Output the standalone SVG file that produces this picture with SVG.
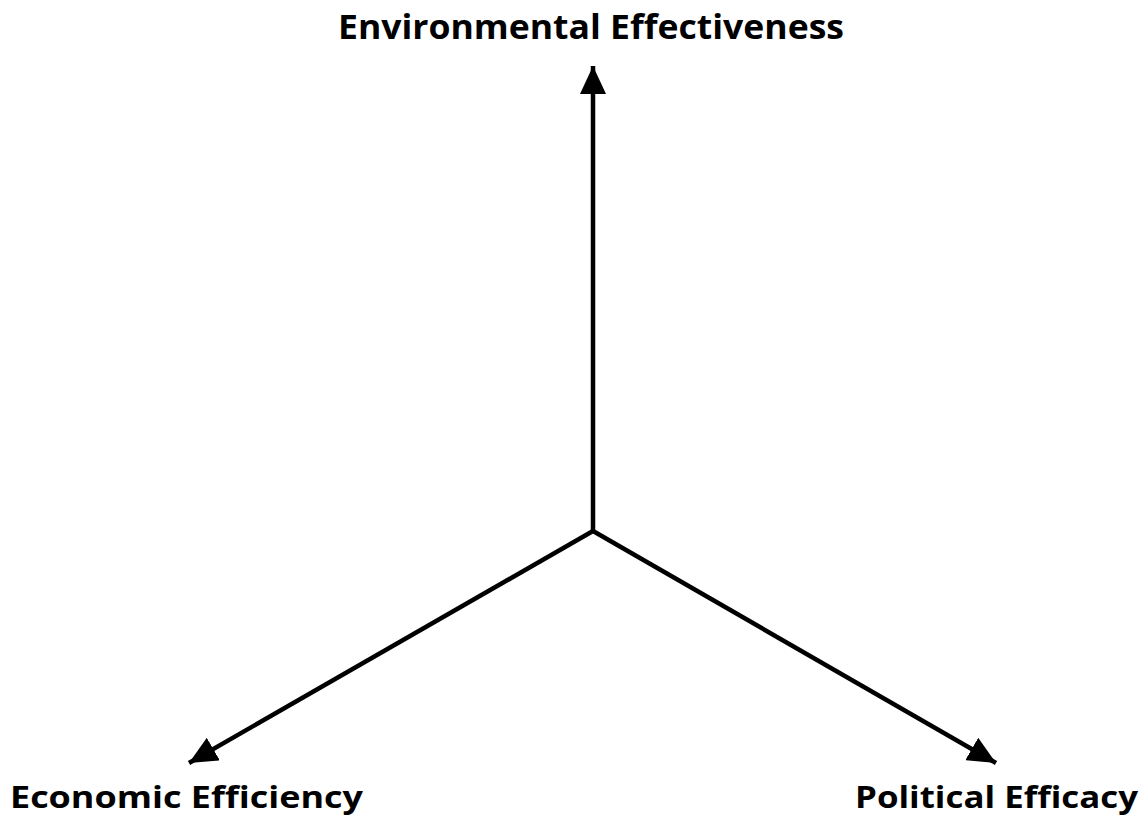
<svg xmlns="http://www.w3.org/2000/svg" width="1146" height="818" viewBox="0 0 1146 818">
<style>
.lbl{font-family:"Open Sans","Liberation Sans",sans-serif;font-weight:bold;font-size:34px;fill:#000}
.sm{font-size:31px}
.ax{stroke:#000;stroke-width:4.5;fill:none}
</style>
<defs>
<marker id="ah" markerUnits="userSpaceOnUse" markerWidth="30" markerHeight="26" viewBox="0 0 30 26" refX="28" refY="13" orient="auto">
<path d="M0,0 L28,13 L0,26 Z" fill="#000"/>
</marker>
</defs>
<rect width="1146" height="818" fill="#fff"/>
<g id="connectors">
<line class="ax" x1="593" y1="531" x2="593" y2="66" marker-end="url(#ah)"/>
<line class="ax" x1="593" y1="531" x2="189" y2="763" marker-end="url(#ah)"/>
<line class="ax" x1="593" y1="531" x2="996" y2="763" marker-end="url(#ah)"/>
</g>
<g id="env"><text class="lbl" x="338" y="39" textLength="506" lengthAdjust="spacingAndGlyphs">Environmental Effectiveness</text></g>
<g id="econ"><text class="lbl sm" x="10" y="808" textLength="353" lengthAdjust="spacingAndGlyphs">Economic Efficiency</text></g>
<g id="pol"><text class="lbl sm" x="855" y="808" textLength="283" lengthAdjust="spacingAndGlyphs">Political Efficacy</text></g>
</svg>
